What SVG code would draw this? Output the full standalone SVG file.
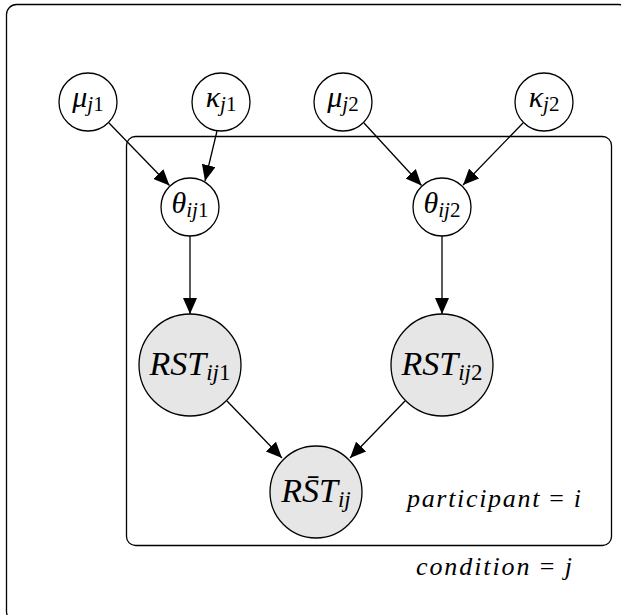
<svg xmlns="http://www.w3.org/2000/svg" width="621" height="615" viewBox="0 0 621 615">
  <defs>
    <marker id="arrow" viewBox="0 0 16 14" refX="16" refY="7" markerWidth="16" markerHeight="14" markerUnits="userSpaceOnUse" orient="auto">
      <path d="M0,0 L16,7 L0,14 Z" fill="#000"/>
    </marker>
  </defs>
  <style>
    .plate { fill: none; stroke: #000; stroke-width: 1.3; }
    .node { fill: #fff; stroke: #000; stroke-width: 1.3; }
    .obs { fill: #e6e6e6; stroke: #000; stroke-width: 1.3; }
    .edge { stroke: #000; stroke-width: 1.3; fill: none; marker-end: url(#arrow); }
    text { font-family: 'Liberation Serif', 'DejaVu Serif', serif; font-style: italic; fill: #000; text-anchor: middle; }
    .up { font-style: normal; }
    .s { font-size: 30px; }
    .m { font-size: 34px; }
    .p { font-size: 26px; }
    .sub { font-size: 21px; }
    .subm { font-size: 23px; }
  </style>

  <!-- plates -->
  <g id="plate-condition">
    <rect class="plate" x="6.5" y="4.5" width="622" height="617" rx="10"/>
    <text class="p" x="494" y="575" textLength="156" lengthAdjust="spacing">condition <tspan class="up">=</tspan> j</text>
  </g>
  <g id="plate-participant">
    <rect class="plate" x="126.5" y="136.5" width="485" height="409" rx="9"/>
    <text class="p" x="494" y="507" textLength="174" lengthAdjust="spacing">participant <tspan class="up">=</tspan> i</text>
  </g>

  <!-- connectors -->
  <g id="edges">
    <line class="edge" x1="109" y1="123" x2="169.5" y2="185.5"/>
    <line class="edge" x1="217" y1="131" x2="205" y2="181"/>
    <line class="edge" x1="364" y1="123" x2="421.5" y2="185.5"/>
    <line class="edge" x1="523" y1="123" x2="463" y2="185"/>
    <line class="edge" x1="190" y1="236" x2="190" y2="314"/>
    <line class="edge" x1="442" y1="236" x2="442" y2="314"/>
    <line class="edge" x1="227" y1="401" x2="282" y2="458"/>
    <line class="edge" x1="405" y1="401" x2="350" y2="458"/>
  </g>

  <!-- nodes -->
  <g id="mu-j1">
    <circle class="node" cx="88" cy="102" r="29"/>
    <text class="s" x="88" y="107">μ<tspan class="sub" dy="4">j</tspan><tspan class="sub up">1</tspan></text>
  </g>
  <g id="kappa-j1">
    <circle class="node" cx="221" cy="102" r="29"/>
    <text class="s" x="221" y="107">κ<tspan class="sub" dy="4">j</tspan><tspan class="sub up">1</tspan></text>
  </g>
  <g id="mu-j2">
    <circle class="node" cx="343" cy="102" r="29"/>
    <text class="s" x="343" y="107">μ<tspan class="sub" dy="4">j</tspan><tspan class="sub up">2</tspan></text>
  </g>
  <g id="kappa-j2">
    <circle class="node" cx="544" cy="102" r="29"/>
    <text class="s" x="544" y="107">κ<tspan class="sub" dy="4">j</tspan><tspan class="sub up">2</tspan></text>
  </g>
  <g id="theta-ij1">
    <circle class="node" cx="190" cy="207" r="29"/>
    <text class="s" x="190" y="213">θ<tspan class="sub" dy="4">ij</tspan><tspan class="sub up">1</tspan></text>
  </g>
  <g id="theta-ij2">
    <circle class="node" cx="442" cy="207" r="29"/>
    <text class="s" x="442" y="213">θ<tspan class="sub" dy="4">ij</tspan><tspan class="sub up">2</tspan></text>
  </g>
  <g id="rst-ij1">
    <circle class="obs" cx="190" cy="365" r="51"/>
    <text class="m" x="190" y="375">RST<tspan class="subm" dy="5">ij</tspan><tspan class="subm up">1</tspan></text>
  </g>
  <g id="rst-ij2">
    <circle class="obs" cx="442" cy="365" r="51"/>
    <text class="m" x="442" y="375">RST<tspan class="subm" dy="5">ij</tspan><tspan class="subm up">2</tspan></text>
  </g>
  <g id="rst-bar-ij">
    <circle class="obs" cx="316" cy="492" r="46"/>
    <text class="m" x="316" y="502">RS̄T<tspan class="subm" dy="5">ij</tspan></text>
  </g>
</svg>
